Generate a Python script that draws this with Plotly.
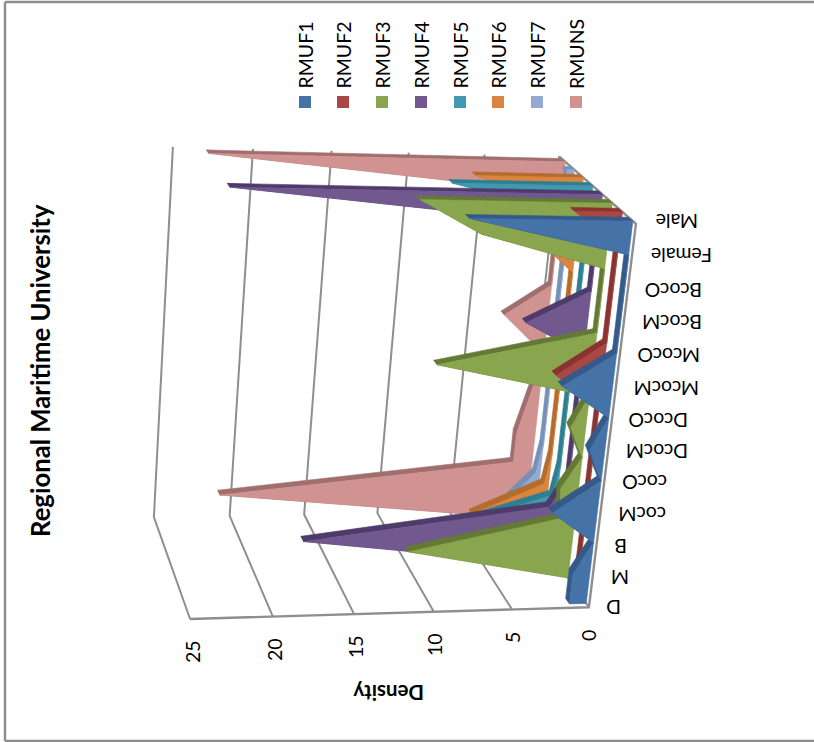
import numpy as np
import plotly.graph_objects as go

categories = ["D", "M", "B", "cocM", "cocO", "DcocM", "DcocO", "McocM", "McocO", "BcocM", "BcocO", "Female", "Male"]
series_names = ["RMUF1", "RMUF2", "RMUF3", "RMUF4", "RMUF5", "RMUF6", "RMUF7", "RMUNS"]
rmuf1 = [1.1, 1.1, 0, 2.9, 0, 1, 0, 3.2, 0, 0, 0, 0, 10]
rmuf2 = [0, 0, 0, 0, 0, 0, 0, 3, 0, 0, 0, 0, 3]
rmuf3 = [0, 10.7, 1, 1.2, 0, 1, 0, 10, 0, 0, 0, 8, 12]
rmuf4 = [0, 17, 1.1, 0, 0, 0, 0, 0, 4, 0, 0, 0, 23]
rmuf5 = [0, 7, 0.3, 0, 0, 0, 0, 0, 0, 0, 0, 0, 9]
rmuf6 = [0, 5, 0.3, 0, 0, 0, 0, 0, 0, 0, 2.5, 0, 7]
rmuf7 = [0, 2.2, 0.3, 0, 0, 0, 0, 0, 0, 0, 0, 0, 0.5]
rmuns = [0, 21, 1.3, 1.3, 0.8, 0.3, 0.7, 3, 0, 0, 0, 0, 23]
all_series = [rmuf1, rmuf2, rmuf3, rmuf4, rmuf5, rmuf6, rmuf7, rmuns]
value_ticks = [0, 5, 10, 15, 20, 25]

face_colors = ["#4572A7", "#AA4643", "#89A54E", "#71588F", "#4198AF", "#DB843D", "#93A9CF", "#D19392"]
top_colors = ["#345A8A", "#8A3331", "#647A34", "#4E3A6B", "#2D7F91", "#B46C2C", "#7690B8", "#A06E6D"]
GRID = "#8E8E8E"
FONT = "Lato"

# Page-space anchors of the plot box: (category 0..1, depth 0..1, value 0..1) -> pixel
anchors = [
    ((0, 0, 0), (587, 608)), ((0, 0, 1), (191, 619)),
    ((0, 1, 0), (522, 510)), ((0, 1, 1), (153, 517)),
    ((1, 1, 0), (558, 157)), ((1, 1, 1), (173, 147)),
    ((1, 0, 0), (637, 223)),
]


def fit_camera(pairs):
    rows = []
    for (a, b, c), (u, v) in pairs:
        rows.append([a, b, c, 1, 0, 0, 0, 0, -u * a, -u * b, -u * c, -u])
        rows.append([0, 0, 0, 0, a, b, c, 1, -v * a, -v * b, -v * c, -v])
    return np.linalg.svd(np.array(rows, float))[2][-1].reshape(3, 4)


CAM = fit_camera(anchors)
N = len(categories) - 1


def project(i, depth, value):
    p = CAM @ np.array([i / N, depth, value / 25.0, 1.0])
    return float(p[0] / p[2]), float(p[1] / p[2])


def clockwise(poly):
    # Same winding for every quad, so overlapping ones do not cancel under the nonzero fill rule
    area = sum(poly[k][0] * poly[(k + 1) % len(poly)][1] - poly[(k + 1) % len(poly)][0] * poly[k][1]
               for k in range(len(poly)))
    return poly if area >= 0 else poly[::-1]


fig = go.Figure()


def polygons(polys, color, name):
    xs, ys = [], []
    for poly in polys:
        poly = clockwise(poly)
        xs += [p[0] for p in poly] + [poly[0][0], None]
        ys += [p[1] for p in poly] + [poly[0][1], None]
    fig.add_trace(go.Scatter(x=xs, y=ys, mode="lines", fill="toself", fillcolor=color,
                             line=dict(color=color, width=0.6), hoverinfo="skip",
                             showlegend=False, name=name))


# Box walls and gridlines
for v in value_ticks:
    pts = [project(0, 0, v), project(0, 1, v), project(N, 1, v)]
    fig.add_trace(go.Scatter(x=[p[0] for p in pts], y=[p[1] for p in pts], mode="lines",
                             line=dict(color=GRID, width=2), hoverinfo="skip", showlegend=False))
edge = [project(0, 0, 25), project(0, 0, 0), project(N, 0, 0), project(N, 1, 0)]
fig.add_trace(go.Scatter(x=[p[0] for p in edge], y=[p[1] for p in edge], mode="lines",
                         line=dict(color=GRID, width=2.4), hoverinfo="skip", showlegend=False))

# Slabs, rear series first so nearer ones cover them
GAP = 0.29
for s in range(len(all_series) - 1, -1, -1):
    vals = all_series[s]
    d0 = (s + GAP) / 8
    d1 = (s + 1 - GAP) / 8
    bands = []
    for i in range(N):
        bands.append([project(i, d0, vals[i]), project(i + 1, d0, vals[i + 1]),
                      project(i + 1, d1, vals[i + 1]), project(i, d1, vals[i])])
    bands.append([project(N, d0, 0), project(N, d0, vals[N]), project(N, d1, vals[N]), project(N, d1, 0)])
    polygons(bands, top_colors[s], series_names[s])
    front = [project(0, d0, 0)] + [project(i, d0, vals[i]) for i in range(N + 1)] + [project(N, d0, 0)]
    polygons([front], face_colors[s], series_names[s])

annotations = []


def label(x, y, text, size, angle, bold=False):
    annotations.append(dict(x=x, y=y, xref="x", yref="y", text=f"<b>{text}</b>" if bold else text,
                            showarrow=False, textangle=angle, xanchor="center", yanchor="middle",
                            font=dict(family=FONT, size=size, color="#000000")))


cat_centers = [(614, 608), (620, 578), (621, 547), (642, 515), (645, 483), (657, 452), (658, 421),
               (667, 389), (669, 356), (672, 323), (674, 291), (682, 256), (677, 222)]
for name, (x, y) in zip(categories, cat_centers):
    label(x, y, name, 19.5, 180)

tick_centers = [(588, 636), (512, 638), (434, 645), (355, 647), (274, 650), (192, 652)]
for v, (x, y) in zip(value_ticks, tick_centers):
    label(x, y, str(v), 19.5, -90)

label(389, 693, "Density", 20.5, 180, bold=True)
label(40, 371, "Regional Maritime University", 25.7, -90, bold=True)

# Legend swatches with their rotated captions
legend_x = [305, 343, 382, 421, 460, 498, 537, 576]
fig.add_trace(go.Scatter(x=legend_x, y=[102] * 8, mode="markers",
                         marker=dict(symbol="square", size=12, color=face_colors, line=dict(width=0)),
                         hoverinfo="skip", showlegend=False))
for x, name in zip(legend_x, series_names):
    annotations.append(dict(x=x, y=91, xref="x", yref="y", text=name, showarrow=False, textangle=-90,
                            xanchor="center", yanchor="bottom",
                            font=dict(family=FONT, size=19.5, color="#000000")))

frame = dict(type="line", line=dict(color="#8E8E8E", width=2.5), xref="x", yref="y", layer="above")
shapes = [dict(frame, x0=5, y0=2, x1=5, y1=741), dict(frame, x0=5, y0=2, x1=814, y1=2),
          dict(frame, x0=5, y0=741, x1=814, y1=741)]

fig.update_layout(width=814, height=742, margin=dict(l=0, r=0, t=0, b=0), paper_bgcolor="white",
                  plot_bgcolor="white", annotations=annotations, shapes=shapes, showlegend=False,
                  xaxis=dict(range=[0, 814], visible=False, fixedrange=True),
                  yaxis=dict(range=[742, 0], visible=False, fixedrange=True))
fig.write_html("out.html", config=dict(displayModeBar=False))
